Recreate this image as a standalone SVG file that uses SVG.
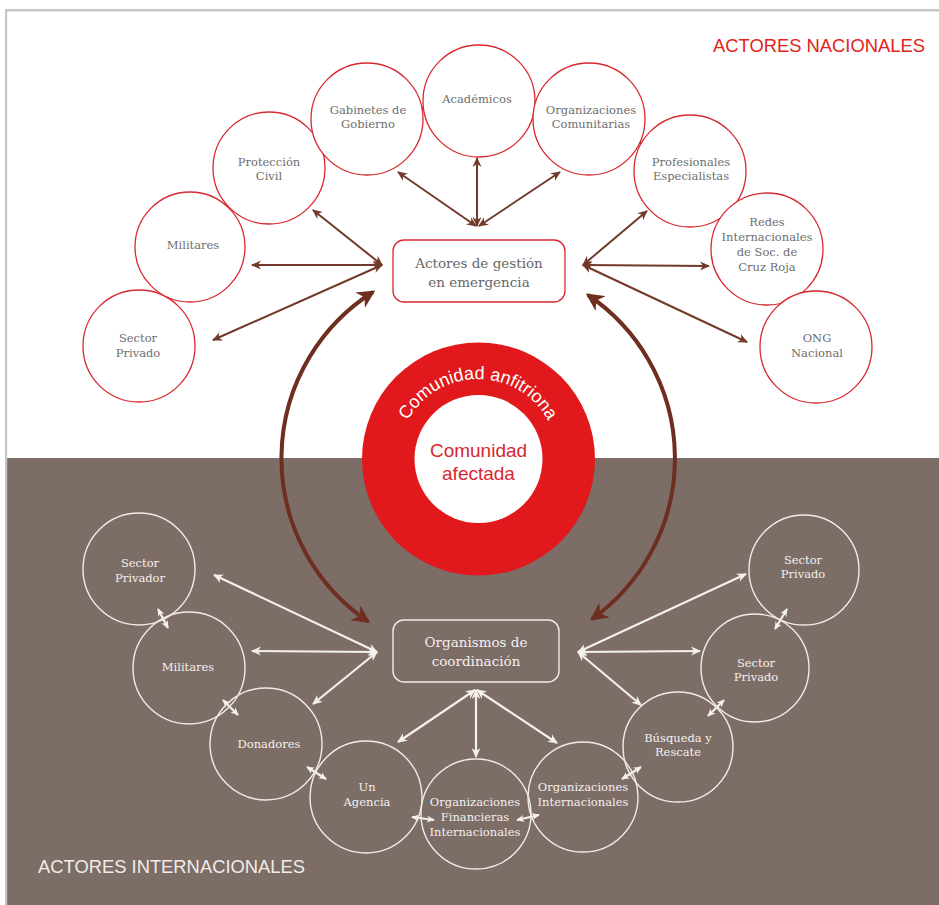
<svg xmlns="http://www.w3.org/2000/svg" width="939" height="905" viewBox="0 0 939 905">
<defs>
<style>
.nr circle{fill:#fff;stroke:#d8282f;stroke-width:1.3}
.ni circle{fill:none;stroke:#f1ebe7;stroke-width:1.4}
.tn{font-family:"DejaVu Serif","Liberation Serif",serif;font-size:11.5px;fill:#6e6e6e;text-anchor:middle}
.ti{font-family:"DejaVu Serif","Liberation Serif",serif;font-size:11.5px;fill:#f4f0ed;text-anchor:middle}
.tb{font-family:"DejaVu Serif","Liberation Serif",serif;font-size:13.5px;fill:#666;text-anchor:middle}
.tbw{font-family:"DejaVu Serif","Liberation Serif",serif;font-size:13.5px;fill:#f4f0ed;text-anchor:middle}
.cb{stroke:#733a2c;stroke-width:2;fill:none;marker-start:url(#ab);marker-end:url(#ab)}
.cbs{stroke:#733a2c;stroke-width:2;fill:none;marker-start:url(#abs);marker-end:url(#abs)}
.cw{stroke:#f4f0ed;stroke-width:2.2;fill:none;marker-start:url(#aw);marker-end:url(#aw)}
.cws{stroke:#f4f0ed;stroke-width:2.2;fill:none;marker-start:url(#aws);marker-end:url(#aws)}
.big{stroke:#6e2e20;stroke-width:4;fill:none;marker-start:url(#abig);marker-end:url(#abig)}
</style>
<marker id="ab" viewBox="0 0 10 10" refX="9" refY="5" markerWidth="10" markerHeight="10" markerUnits="userSpaceOnUse" orient="auto-start-reverse"><path d="M0,0.5 L10,5 L0,9.5 L3,5 z" fill="#733a2c"/></marker>
<marker id="abs" viewBox="0 0 10 10" refX="9" refY="5" markerWidth="8" markerHeight="8" markerUnits="userSpaceOnUse" orient="auto-start-reverse"><path d="M0,0.5 L10,5 L0,9.5 L3,5 z" fill="#733a2c"/></marker>
<marker id="aw" viewBox="0 0 10 10" refX="9" refY="5" markerWidth="10" markerHeight="10" markerUnits="userSpaceOnUse" orient="auto-start-reverse"><path d="M0,0.5 L10,5 L0,9.5 L3,5 z" fill="#f4f0ed"/></marker>
<marker id="aws" viewBox="0 0 10 10" refX="9" refY="5" markerWidth="8" markerHeight="8" markerUnits="userSpaceOnUse" orient="auto-start-reverse"><path d="M0,0.5 L10,5 L0,9.5 L3,5 z" fill="#f4f0ed"/></marker>
<marker id="abig" viewBox="0 0 10 10" refX="8.5" refY="5" markerWidth="18" markerHeight="18" markerUnits="userSpaceOnUse" orient="auto-start-reverse"><path d="M0,0 L10,5 L0,10 L3,5 z" fill="#6e2e20"/></marker>
<path id="arcT" d="M 398 459 A 80 80 0 0 1 558 459"/>
</defs>

<rect x="0" y="0" width="939" height="905" fill="#fff"/>
<rect x="7" y="458" width="932" height="447" fill="#7c6d67"/>
<rect x="5" y="9" width="934" height="2.5" fill="#c6c6c6"/>
<rect x="5" y="9" width="2.2" height="896" fill="#c6c6c6"/>

<text x="713" y="52" font-family="'Liberation Sans',Arial,sans-serif" font-size="19" fill="#e2231a" textLength="212" lengthAdjust="spacingAndGlyphs">ACTORES NACIONALES</text>
<text x="38" y="873" font-family="'Liberation Sans',Arial,sans-serif" font-size="19" fill="#f1ece9" textLength="267" lengthAdjust="spacingAndGlyphs">ACTORES INTERNACIONALES</text>

<g id="comunidad">
<circle cx="478.5" cy="459" r="116.5" fill="#e1191c"/>
<circle cx="478.5" cy="459" r="64" fill="#fff"/>
<text font-family="'Liberation Sans',Arial,sans-serif" font-size="18" fill="#fff" text-anchor="middle"><textPath href="#arcT" startOffset="50%">Comunidad anfitriona</textPath></text>
<text x="478.5" y="457" font-family="'Liberation Sans',Arial,sans-serif" font-size="19" fill="#d7282f" text-anchor="middle">Comunidad</text>
<text x="478.5" y="480" font-family="'Liberation Sans',Arial,sans-serif" font-size="19" fill="#d7282f" text-anchor="middle">afectada</text>
</g>

<g id="connectors">
<path class="big" d="M 373 292 A 197 197 0 0 0 368 621.5"/>
<path class="big" d="M 588 295 A 197 197 0 0 1 592 619"/>
<line class="cb" x1="382" y1="265" x2="313" y2="210"/>
<line class="cb" x1="382" y1="265" x2="252" y2="265"/>
<line class="cb" x1="382" y1="265" x2="213" y2="340"/>
<line class="cb" x1="476" y1="226" x2="398" y2="172"/>
<line class="cb" x1="477" y1="226" x2="477" y2="158"/>
<line class="cb" x1="479" y1="226" x2="560" y2="172"/>
<line class="cb" x1="583" y1="265" x2="647" y2="211"/>
<line class="cb" x1="583" y1="265" x2="709" y2="266"/>
<line class="cb" x1="583" y1="265" x2="747" y2="342"/>
<line class="cbs" x1="157" y1="305" x2="169" y2="287"/>
<line class="cbs" x1="222" y1="216" x2="238" y2="199"/>
<line class="cbs" x1="307" y1="149" x2="327" y2="135"/>
<line class="cbs" x1="412" y1="110" x2="434" y2="106"/>
<line class="cbs" x1="521" y1="107" x2="544" y2="111"/>
<line class="cbs" x1="628" y1="134" x2="648" y2="148"/>
<line class="cbs" x1="718" y1="198" x2="734" y2="215"/>
<line class="cbs" x1="787" y1="287" x2="799" y2="305"/>

<line class="cw" x1="377" y1="652" x2="214" y2="575"/>
<line class="cw" x1="377" y1="652" x2="252" y2="651"/>
<line class="cw" x1="377" y1="652" x2="313" y2="704"/>
<line class="cw" x1="475" y1="690" x2="398" y2="742"/>
<line class="cw" x1="476" y1="690" x2="476" y2="757"/>
<line class="cw" x1="477" y1="690" x2="557" y2="743"/>
<line class="cw" x1="578" y1="652" x2="746" y2="574"/>
<line class="cw" x1="578" y1="652" x2="700" y2="651"/>
<line class="cw" x1="578" y1="652" x2="641" y2="705"/>
<line class="cws" x1="158" y1="609" x2="168" y2="628"/>
<line class="cws" x1="223" y1="700" x2="238" y2="715"/>
<line class="cws" x1="307" y1="767" x2="326" y2="779"/>
<line class="cws" x1="412" y1="817" x2="434" y2="820"/>
<line class="cws" x1="517" y1="820" x2="539" y2="815"/>
<line class="cws" x1="622" y1="779" x2="641" y2="767"/>
<line class="cws" x1="708" y1="716" x2="724" y2="700"/>
<line class="cws" x1="775" y1="629" x2="787" y2="609"/>
</g>

<g id="actores-gestion">
<rect x="393" y="240" width="172" height="62" rx="11" fill="#fff" stroke="#d8282f" stroke-width="1.3"/>
<text class="tb" x="479" y="268">Actores de gestión</text>
<text class="tb" x="479" y="287">en emergencia</text>
</g>
<g id="organismos-coordinacion">
<rect x="393" y="620" width="166" height="62" rx="11" fill="none" stroke="#f1ebe7" stroke-width="1.4"/>
<text class="tbw" x="476" y="647">Organismos de</text>
<text class="tbw" x="476" y="666">coordinación</text>
</g>

<g id="n-sector-privado" class="nr"><circle cx="139" cy="346" r="56"/><text class="tn" x="138" y="342">Sector</text><text class="tn" x="138" y="357">Privado</text></g>
<g id="n-militares" class="nr"><circle cx="190" cy="247" r="55"/><text class="tn" x="193" y="249">Militares</text></g>
<g id="n-proteccion-civil" class="nr"><circle cx="269" cy="168" r="56"/><text class="tn" x="269" y="166">Protección</text><text class="tn" x="269" y="180">Civil</text></g>
<g id="n-gabinetes" class="nr"><circle cx="367" cy="119" r="56"/><text class="tn" x="368" y="114">Gabinetes de</text><text class="tn" x="368" y="128">Gobierno</text></g>
<g id="n-academicos" class="nr"><circle cx="479" cy="101" r="56"/><text class="tn" x="477" y="103">Académicos</text></g>
<g id="n-org-comunitarias" class="nr"><circle cx="589" cy="119" r="56"/><text class="tn" x="591" y="114">Organizaciones</text><text class="tn" x="591" y="128">Comunitarias</text></g>
<g id="n-profesionales" class="nr"><circle cx="690" cy="171" r="56"/><text class="tn" x="691" y="166">Profesionales</text><text class="tn" x="691" y="180">Especialistas</text></g>
<g id="n-redes-cruz-roja" class="nr"><circle cx="767" cy="249" r="56"/><text class="tn" x="767" y="226">Redes</text><text class="tn" x="767" y="241">Internacionales</text><text class="tn" x="767" y="256">de Soc. de</text><text class="tn" x="767" y="271">Cruz Roja</text></g>
<g id="n-ong-nacional" class="nr"><circle cx="816" cy="347" r="56"/><text class="tn" x="817" y="342">ONG</text><text class="tn" x="817" y="357">Nacional</text></g>

<g id="i-sector-privador" class="ni"><circle cx="139" cy="569" r="56"/><text class="ti" x="140" y="567">Sector</text><text class="ti" x="140" y="582">Privador</text></g>
<g id="i-militares" class="ni"><circle cx="189" cy="668" r="56"/><text class="ti" x="188" y="671">Militares</text></g>
<g id="i-donadores" class="ni"><circle cx="266" cy="744" r="56"/><text class="ti" x="269" y="748">Donadores</text></g>
<g id="i-un-agencia" class="ni"><circle cx="366" cy="797" r="56"/><text class="ti" x="367" y="791">Un</text><text class="ti" x="367" y="806">Agencia</text></g>
<g id="i-org-financieras" class="ni"><circle cx="476" cy="814" r="55"/><text class="ti" x="475" y="806">Organizaciones</text><text class="ti" x="475" y="821">Financieras</text><text class="ti" x="475" y="836">Internacionales</text></g>
<g id="i-org-internacionales" class="ni"><circle cx="583" cy="797" r="55"/><text class="ti" x="583" y="791">Organizaciones</text><text class="ti" x="583" y="806">Internacionales</text></g>
<g id="i-busqueda-rescate" class="ni"><circle cx="678" cy="747" r="55"/><text class="ti" x="678" y="742">Búsqueda y</text><text class="ti" x="678" y="756">Rescate</text></g>
<g id="i-sector-privado-2" class="ni"><circle cx="755" cy="668" r="54"/><text class="ti" x="756" y="667">Sector</text><text class="ti" x="756" y="681">Privado</text></g>
<g id="i-sector-privado-1" class="ni"><circle cx="804" cy="570" r="55"/><text class="ti" x="803" y="564">Sector</text><text class="ti" x="803" y="578">Privado</text></g>
</svg>
